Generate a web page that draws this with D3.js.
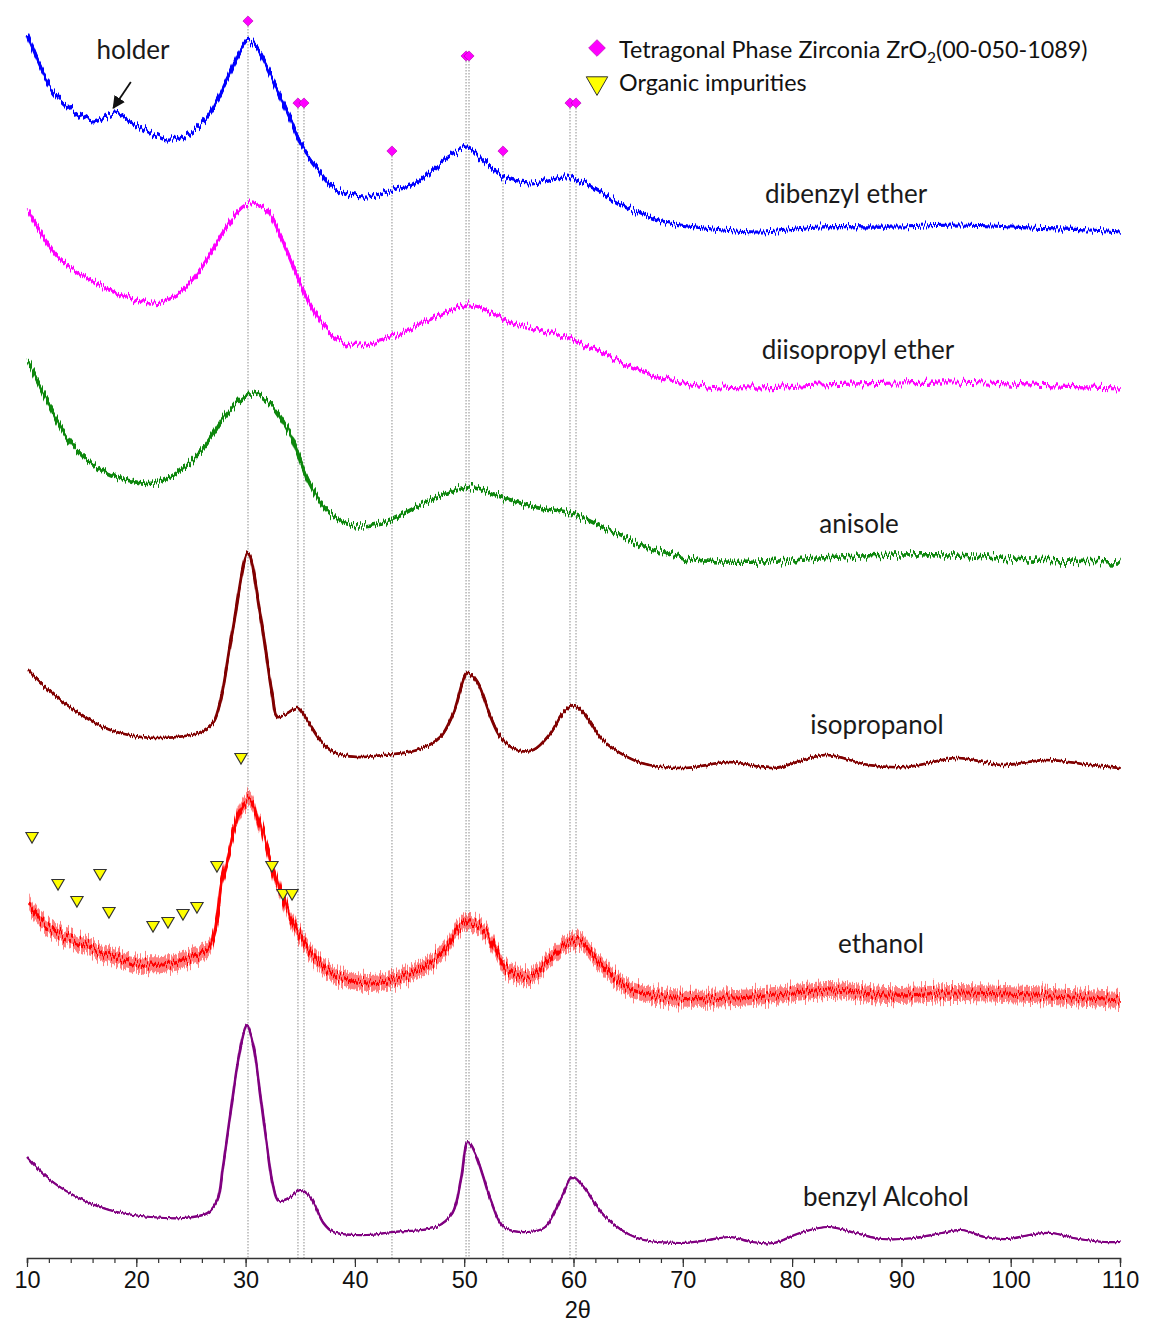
<!DOCTYPE html>
<html>
<head>
<meta charset="utf-8">
<script src="https://cdn.jsdelivr.net/npm/d3@7"></script>
<style>
  html, body { margin: 0; padding: 0; background: #fff; }
  svg { display: block; }
</style>
</head>
<body>
<div id="chart"></div>
<script>
// ---------------- DATA (2θ in degrees, intensity in arbitrary units, offset stacked) ----------------
const tickValues = [10, 20, 30, 40, 50, 60, 70, 80, 90, 100, 110];
const xTitle = "2θ";

const seriesNames = ["dibenzyl ether", "diisopropyl ether", "anisole", "isopropanol", "ethanol", "benzyl Alcohol"];

const dibenzylEther = [
  [10.0,1223],[12.1,1171],[13.7,1151],[16.0,1136],[18.05,1145],[19.7,1135],[22.8,1118],[24.6,1123],
  [26.5,1141],[28.3,1178],[29.5,1208],[30.2,1218],[31.0,1210],[32.5,1178],[34.1,1138],[35.0,1115],
  [36.5,1091],[38.0,1071],[39.6,1063],[41.1,1061],[42.6,1065],[44.1,1070],[45.3,1073],[48.4,1100],
  [50.3,1110],[51.4,1101],[53.5,1081],[56.0,1075],[59.4,1081],[60.6,1076],[61.3,1073],[64.9,1050],
  [68.4,1036],[71.9,1030],[77.2,1026],[82.5,1031],[89.5,1031],[95.5,1033],[101.8,1030],[107.1,1028],[110,1026]
];
const diisopropylEther = [
  [10.1,1048],[12.8,1001],[16.3,975],[19.1,961],[21.6,955],[23.7,963],[25.8,988],[27.9,1025],
  [29.4,1048],[30.4,1055],[31.9,1048],[33.2,1021],[34.6,985],[35.7,958],[37.4,928],[39.6,913],
  [41.4,915],[43.5,921],[46.2,935],[48.4,946],[50.5,953],[52.6,945],[54.4,935],[56.8,928],
  [59.3,921],[62.4,906],[66.6,885],[70.1,875],[76.1,870],[82.5,873],[89.5,875],[94.7,876],[101.8,873],[110,870]
];
const anisole = [
  [10.1,896],[11.7,861],[13.8,818],[16.3,791],[19.1,778],[21.6,775],[23.7,785],[26.2,811],
  [28.3,845],[30.4,865],[32.2,855],[34.0,825],[35.7,778],[37.4,748],[39.6,733],[42.8,736],
  [46.3,755],[49.8,770],[50.9,771],[53.4,761],[56.8,750],[59.7,745],[63.2,728],[66.6,711],
  [71.2,698],[77.2,696],[82.5,700],[89.5,703],[94.7,703],[101.8,698],[110,696]
];
const isopropanol = [
  [10.1,588],[11.6,571],[14.3,548],[17.6,528],[21.7,520],[25.7,525],[26.5,530],[27.1,537],
  [27.7,558],[28.8,628],[30.2,705],[31.3,645],[32.4,565],[32.9,541],[33.8,545],[34.7,550],
  [35.6,538],[36.8,518],[38.0,506],[40.2,501],[42.6,503],[45.7,508],[47.8,521],[49.0,545],
  [50.3,585],[51.2,575],[52.4,541],[53.3,521],[54.8,508],[56.3,508],[57.9,525],[59.0,545],
  [60.0,553],[60.9,545],[62.4,521],[63.4,511],[66.2,495],[70.2,490],[74.2,496],[78.3,490],
  [83.0,503],[87.0,493],[90.4,491],[95.1,500],[99.2,493],[103.2,498],[107.3,493],[110,490]
];
const ethanol = [
  [10.2,353],[11.2,338],[12.9,325],[16.3,308],[19.7,295],[22.4,293],[25.0,300],[26.7,311],
  [27.4,343],[27.8,378],[28.4,401],[29.4,445],[30.3,458],[31.4,431],[32.8,378],[34.2,338],
  [35.8,308],[37.8,285],[41.2,275],[45.2,285],[48.0,305],[49.6,331],[50.6,336],[52.0,325],
  [54.0,288],[56.0,281],[58.0,301],[59.4,315],[60.8,315],[62.1,298],[64.8,271],[68.2,261],
  [74.9,260],[80.3,265],[83.6,268],[88.4,263],[95.1,265],[101.9,263],[110,258]
];
const benzylAlcohol = [
  [10.0,101],[12.1,78],[15.1,58],[18.2,46],[21.3,41],[24.3,40],[26.5,45],[27.4,58],[27.9,91],
  [28.6,145],[29.2,191],[29.8,225],[30.1,233],[30.7,212],[31.3,165],[31.9,115],[32.5,72],[33.0,57],
  [34.1,61],[35.0,68],[35.9,61],[37.1,35],[38.0,26],[41.1,23],[43.4,26],[47.4,31],[48.9,45],
  [49.7,80],[50.3,116],[51.0,104],[51.7,82],[52.4,58],[53.6,31],[55.8,26],[57.4,31],[58.9,61],[59.9,81],
  [60.9,71],[62.9,41],[65.8,20],[69.8,15],[72.3,18],[74.3,21],[76.3,16],[78.3,15],[80.7,25],
  [83.3,31],[85.8,25],[88.2,19],[91.2,20],[93.7,25],[95.5,28],[97.6,21],[99.7,19],[101.7,23],
  [103.7,25],[105.7,20],[108.6,16],[110,16]
];

// Tetragonal ZrO2 reference reflections (00-050-1089) and marker level
const zirconiaTheta = [30.22, 34.79, 35.34, 43.39, 50.17, 50.44, 53.55, 59.68, 60.23];
const zirconiaLevel = [1237, 1155, 1155, 1107, 1202, 1202, 1107, 1155, 1155];

// Organic impurity markers
const impurityTheta = [10.46, 12.84, 14.57, 16.68, 17.50, 21.53, 22.90, 24.27, 25.55, 27.38, 29.58, 32.41, 33.42, 34.25];
const impurityLevel = [422, 375, 358, 385, 347, 333, 337, 345, 352, 393, 501, 393, 365, 365];

const legendLabels = ["Tetragonal Phase Zirconia ZrO", "Organic impurities"];

// ---------------- STYLE / LAYOUT ----------------
const W = 1149, H = 1325;
const seriesData = [dibenzylEther, diisopropylEther, anisole, isopropanol, ethanol, benzylAlcohol];
const seriesColors = ["#0000ff", "#ff00ff", "#0a870a", "#800000", "#ff0000", "#800080"];
const seriesWidths = [3.2, 3.2, 3.5, 2.6, 3.2, 2.2];
const fuzz = [13, 13, 15, 7, 22, 5];        // rendering texture strength (visual style only)
const bandHalf = [0, 0, 0, 0, 8, 0];        // noise band half-height in px (style)
const labelPos = [[846, 203], [858, 359], [859, 533], [877, 734], [881, 953], [886, 1206]];
const labelFont = "Lato, 'Liberation Sans', sans-serif";

const svg = d3.select("#chart").append("svg").attr("width", W).attr("height", H)
  .style("font-family", labelFont);
const defs = svg.append("defs");

// texture filters that give the traces a detector-noise look
fuzz.forEach((s, i) => {
  const f = defs.append("filter").attr("id", "fz" + i).attr("filterUnits", "userSpaceOnUse")
    .attr("x", 0).attr("y", 0).attr("width", W).attr("height", H);
  f.append("feTurbulence").attr("type", "fractalNoise").attr("baseFrequency", "0.6 0.004")
    .attr("numOctaves", 2).attr("seed", 3 + i).attr("result", "t");
  f.append("feColorMatrix").attr("in", "t").attr("type", "matrix")
    .attr("values", "0 0 0 0 0.5  0 1 0 0 0  0 0 0 0 0  0 0 0 0 1").attr("result", "m");
  f.append("feDisplacementMap").attr("in", "SourceGraphic").attr("in2", "m")
    .attr("scale", s).attr("xChannelSelector", "R").attr("yChannelSelector", "G");
});

const x = d3.scaleLinear().domain([10, 110]).range([27, 1120]);
const y = d3.scaleLinear().domain([0, 1258]).range([1258, 0]);

// reference dotted lines
svg.append("g").selectAll("line").data(zirconiaTheta).join("line")
  .attr("x1", d => x(d)).attr("x2", d => x(d))
  .attr("y1", (d, i) => y(zirconiaLevel[i]) + 5).attr("y2", y(0))
  .attr("stroke", "#a8a8a8").attr("stroke-width", 1.3).attr("stroke-dasharray", "1.5,1.5");

// series
const curve = d3.curveCatmullRom.alpha(0.5);
const line = d3.line().x(d => x(d[0])).y(d => y(d[1])).curve(curve);
const band = (h) => d3.area().x(d => x(d[0])).y0(d => y(d[1]) + h).y1(d => y(d[1]) - h).curve(curve);
const gS = svg.append("g");
seriesData.forEach((s, i) => {
  if (bandHalf[i] > 0) {
    gS.append("path").attr("d", band(bandHalf[i])(s)).attr("fill", seriesColors[i])
      .attr("fill-opacity", 0.5).attr("filter", `url(#fz${i})`);
  }
  const g = gS.append("g").attr("filter", `url(#fz${i})`);
  g.append("path").attr("d", line(s)).attr("fill", "none")
    .attr("stroke", seriesColors[i]).attr("stroke-width", seriesWidths[i])
    .attr("stroke-linejoin", "round");
  g.append("path").attr("d", line(s)).attr("fill", "none")
    .attr("stroke", seriesColors[i]).attr("stroke-width", seriesWidths[i] * 0.7)
    .attr("transform", "translate(0.8,0)");
});

// x axis
const axis = d3.axisBottom(x).tickValues(d3.range(10, 111, 2)).tickSize(5).tickFormat("");
const gx = svg.append("g").attr("transform", `translate(0,${y(0)})`).call(axis);
gx.select(".domain").attr("stroke", "#333").attr("stroke-width", 1.5);
gx.selectAll(".tick line").attr("stroke", "#333").attr("stroke-width", 1.2);
const axisMajor = d3.axisBottom(x).tickValues(tickValues).tickSize(9).tickPadding(4);
const gx2 = svg.append("g").attr("transform", `translate(0,${y(0)})`).call(axisMajor);
gx2.select(".domain").remove();
gx2.selectAll(".tick line").attr("stroke", "#333").attr("stroke-width", 1.2);
gx2.selectAll(".tick text").attr("font-family", "'Liberation Sans', Arial, sans-serif")
  .attr("font-size", 23.5).attr("fill", "#111");
svg.append("text").attr("x", x(60.4)).attr("y", 1318).attr("text-anchor", "middle")
  .attr("font-family", "'Liberation Sans', Arial, sans-serif").attr("font-size", 23.5).attr("fill", "#111")
  .text(xTitle);

// diamonds
const diamond = d3.symbol().type(d3.symbolSquare).size(52);
svg.append("g").selectAll("path").data(zirconiaTheta).join("path")
  .attr("d", diamond)
  .attr("transform", (d, i) => `translate(${x(d)},${y(zirconiaLevel[i])}) rotate(45)`)
  .attr("fill", "#ff00ff").attr("stroke", "#b000b0").attr("stroke-width", 0.6);

// triangles
const tri = d3.symbol().type(d3.symbolTriangle).size(66);
svg.append("g").selectAll("path").data(impurityTheta).join("path")
  .attr("d", tri)
  .attr("transform", (d, i) => `translate(${x(d)},${y(impurityLevel[i])}) rotate(180)`)
  .attr("fill", "#ffff00").attr("stroke", "#333").attr("stroke-width", 1.1);

// series labels
svg.append("g").selectAll("text").data(seriesNames).join("text")
  .attr("x", (d, i) => labelPos[i][0]).attr("y", (d, i) => labelPos[i][1])
  .attr("text-anchor", "middle").attr("font-size", 26).attr("fill", "#1a1a1a")
  .text(d => d);

// holder annotation
svg.append("text").attr("x", 133).attr("y", 59).attr("text-anchor", "middle")
  .attr("font-size", 26).attr("fill", "#1a1a1a").text("holder");
defs.append("marker").attr("id", "arr").attr("viewBox", "0 0 10 10").attr("refX", 9).attr("refY", 5)
  .attr("markerWidth", 7).attr("markerHeight", 7).attr("orient", "auto")
  .append("path").attr("d", "M0,0 L10,5 L0,10 z").attr("fill", "#111");
svg.append("line").attr("x1", x(19.5)).attr("y1", y(1176)).attr("x2", x(17.9)).attr("y2", y(1150))
  .attr("stroke", "#111").attr("stroke-width", 1.8).attr("marker-end", "url(#arr)");

// legend
const lg = svg.append("g");
lg.append("path").attr("d", d3.symbol().type(d3.symbolSquare).size(140))
  .attr("transform", "translate(597,48) rotate(45)").attr("fill", "#ff00ff").attr("stroke", "#b000b0").attr("stroke-width", 0.6);
lg.append("path").attr("d", d3.symbol().type(d3.symbolTriangle).size(200))
  .attr("transform", "translate(597,83) rotate(180)").attr("fill", "#ffff00").attr("stroke", "#333").attr("stroke-width", 1);
const t1 = lg.append("text").attr("x", 619).attr("y", 58).attr("font-size", 23.3).attr("fill", "#111");
t1.append("tspan").text(legendLabels[0]);
t1.append("tspan").attr("font-size", 15.5).attr("dy", 5).text("2");
t1.append("tspan").attr("dy", -5).text("(00-050-1089)");
lg.append("text").attr("x", 619).attr("y", 91).attr("font-size", 23.3).attr("fill", "#111").text(legendLabels[1]);
</script>
</body>
</html>
